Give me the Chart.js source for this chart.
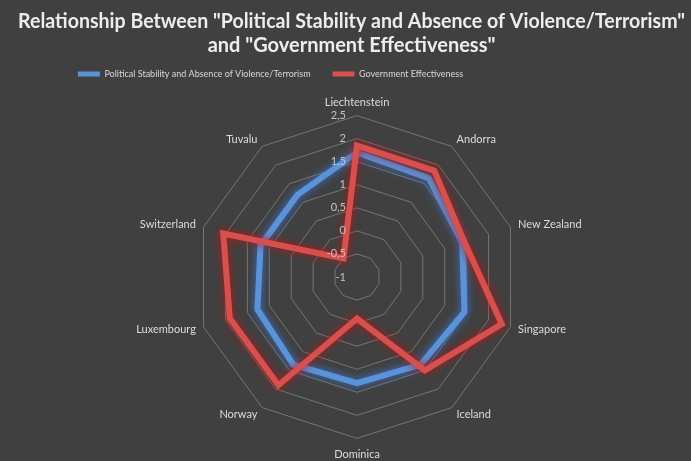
<!DOCTYPE html>
<html>
<head>
<meta charset="utf-8">
<script src="https://cdn.jsdelivr.net/npm/chart.js@4.4.1/dist/chart.umd.min.js"></script>
<style>
  html, body { margin: 0; padding: 0; background: #404040; overflow: hidden; }
  #wrap { width: 691px; height: 461px; }
</style>
</head>
<body>
<div id="wrap"><canvas id="radar"></canvas></div>
<script>
const countries = ['Liechtenstein', 'Andorra', 'New Zealand', 'Singapore', 'Iceland',
  'Dominica', 'Norway', 'Luxembourg', 'Switzerland', 'Tuvalu'];
const politicalStability = [1.70, 1.65, 1.40, 1.45, 1.35, 1.30, 1.35, 1.27, 1.20, 1.20];
const governmentEffectiveness = [1.85, 1.85, 1.45, 2.30, 1.50, -0.10, 1.90, 1.90, 2.05, -0.50];
const tickValues = [-1, -0.5, 0, 0.5, 1, 1.5, 2, 2.5];

const blue = '#5a93d8';
const red = '#d8504d';
const glowColors = ['rgba(60,120,220,0.95)', 'rgba(190,20,20,0.95)'];

// fill the whole canvas with the dark background
const background = {
  id: 'background',
  beforeDraw(chart) {
    const ctx = chart.ctx;
    ctx.save();
    ctx.fillStyle = '#404040';
    ctx.fillRect(0, 0, chart.width, chart.height);
    ctx.restore();
  }
};

// title and legend sit a little left of the radar's centre line
const headerShift = {
  id: 'headerShift',
  afterLayout(chart) {
    chart.titleBlock.left -= 6;
    chart.titleBlock.right -= 6;
    chart.legend.left -= 87;
    chart.legend.right -= 87;
  }
};

// soft glow around each series line
const glow = {
  id: 'glow',
  beforeDatasetDraw(chart, args) {
    chart.ctx.save();
    chart.ctx.shadowColor = glowColors[args.index];
    chart.ctx.shadowBlur = 8;
  },
  afterDatasetDraw(chart) {
    chart.ctx.restore();
  }
};

// value labels just left of the vertical axis (decimal commas),
// country names centred on their spoke just outside the outer ring
const axisText = {
  id: 'axisText',
  afterDatasetsDraw(chart) {
    const scale = chart.scales.r;
    const ctx = chart.ctx;
    ctx.save();
    ctx.font = '11px Lato';
    ctx.fillStyle = '#c4c4c4';
    ctx.textAlign = 'right';
    ctx.textBaseline = 'middle';
    tickValues.forEach(v => {
      const y = scale.yCenter - scale.getDistanceFromCenterForValue(v);
      ctx.fillText(String(v).replace('.', ','), scale.xCenter - 11, y);
    });

    ctx.fillStyle = '#dcdcdc';
    countries.forEach((name, i) => {
      const p = scale.getPointPosition(i, scale.drawingArea + 8);
      const dx = p.x - scale.xCenter;
      if (Math.abs(dx) < 1) {
        const below = p.y > scale.yCenter;
        ctx.textAlign = 'center';
        ctx.textBaseline = below ? 'top' : 'bottom';
        ctx.fillText(name, p.x, below ? p.y + 3 : p.y);
      } else {
        ctx.textAlign = dx > 0 ? 'left' : 'right';
        ctx.textBaseline = 'middle';
        ctx.fillText(name, p.x, p.y);
      }
    });
    ctx.restore();
  }
};

new Chart(document.getElementById('radar'), {
  type: 'radar',
  data: {
    labels: countries,
    datasets: [{
      label: 'Political Stability and Absence of Violence/Terrorism',
      data: politicalStability,
      borderColor: blue,
      backgroundColor: blue,
      borderWidth: 6,
      fill: false,
      pointRadius: 0,
      borderJoinStyle: 'miter',
      order: 1
    }, {
      label: 'Government Effectiveness',
      data: governmentEffectiveness,
      borderColor: red,
      backgroundColor: red,
      borderWidth: 6,
      fill: false,
      pointRadius: 0,
      borderJoinStyle: 'miter',
      order: 0
    }]
  },
  options: {
    responsive: true,
    maintainAspectRatio: false,
    animation: false,
    layout: { padding: { left: 24, right: 0, top: 0, bottom: 0 } },
    plugins: {
      title: {
        display: true,
        text: ['Relationship Between "Political Stability and Absence of Violence/Terrorism"',
               'and "Government Effectiveness"'],
        color: '#ededed',
        font: { family: 'Lato', size: 20, weight: 'bold', lineHeight: 1.2 },
        padding: { top: 10, bottom: -10.5 }
      },
      legend: {
        position: 'top',
        labels: {
          color: '#d9d9d9',
          font: { family: 'Lato', size: 9 },
          boxWidth: 22,
          boxHeight: 5,
          padding: 22,
          sort: (a, b) => a.datasetIndex - b.datasetIndex,
          generateLabels(chart) {
            const items = Chart.defaults.plugins.legend.labels.generateLabels(chart);
            items.forEach(item => {
              item.lineWidth = 0;
              item.fillStyle = item.strokeStyle;
            });
            return items;
          }
        }
      },
      tooltip: { enabled: false }
    },
    scales: {
      r: {
        min: -1,
        max: 2.5,
        ticks: { stepSize: 0.5, display: false },
        grid: { color: '#767676', lineWidth: 1 },
        angleLines: { display: false },
        // names are painted by axisText; these only reserve room around the rings
        pointLabels: {
          color: 'transparent',
          font: { family: 'Lato', size: 11 },
          padding: ctx => (ctx.index === 0 ? 10.9 : ctx.index === 5 ? 4.8 : 8)
        }
      }
    }
  },
  plugins: [background, headerShift, glow, axisText]
});
</script>
</body>
</html>
